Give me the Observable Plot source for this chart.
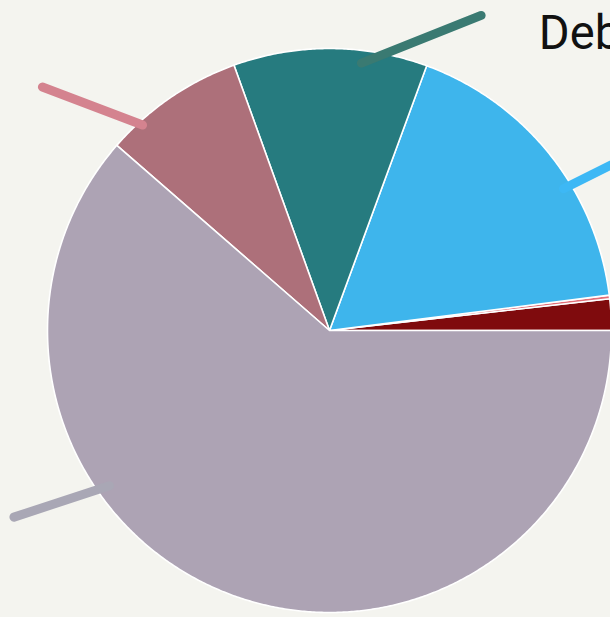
<!DOCTYPE html>
<html><head><meta charset="utf-8">
<script src="https://cdn.jsdelivr.net/npm/d3@7"></script>
<script src="https://cdn.jsdelivr.net/npm/@observablehq/plot@0.6"></script>
<style>html,body{margin:0;padding:0;background:#f4f4ef;overflow:hidden}</style>
</head><body><div id="chart"></div>
<script>
// Slices, counter-clockwise from 3 o'clock
const categories = ["Interest", "Other", "Education", "Debt", "Health", "Social protection"];
const shares = [1.8, 0.2, 17.4, 11.1, 8.1, 61.4];
const sliceColors = ["#7f0b0d", "#e26f78", "#3eb5ec", "#267b7f", "#ad707a", "#ada3b4"];

// Leader lines (polar: degrees CCW from east, radius in pie radii)
const leaderNames = ["Education", "Debt", "Health", "Social protection"];
const leaderStartAngle = [31.2, 83.2, 132.3, 215.2];
const leaderStartRadius = [0.97, 0.955, 0.985, 0.955];
const leaderEndAngle = [30.0, 64.3, 139.7, 210.6];
const leaderEndRadius = [1.314, 1.24, 1.335, 1.30];
const leaderColors = ["#3db8f5", "#3a7a72", "#d4838f", "#a9a7b5"];

// Label
const labelText = ["Debt"];
const labelAngle = [53.4];
const labelRadius = [1.245];

const total = d3.sum(shares);
const rad = d => d * Math.PI / 180;
const rows = [];
let acc = 0;
categories.forEach((c, i) => {
  const a0 = acc / total * 360, a1 = (acc + shares[i]) / total * 360;
  acc += shares[i];
  rows.push({category: c, x: 0, y: 0});
  const n = Math.max(2, Math.ceil((a1 - a0) / 0.4));
  for (let k = 0; k <= n; k++) {
    const a = rad(a0 + (a1 - a0) * k / n);
    rows.push({category: c, x: Math.cos(a), y: Math.sin(a)});
  }
  rows.push({category: c, x: 0, y: 0});
});

const leaders = leaderNames.map((n, i) => ({
  name: n,
  x1: leaderStartRadius[i] * Math.cos(rad(leaderStartAngle[i])),
  y1: leaderStartRadius[i] * Math.sin(rad(leaderStartAngle[i])),
  x2: leaderEndRadius[i] * Math.cos(rad(leaderEndAngle[i])),
  y2: leaderEndRadius[i] * Math.sin(rad(leaderEndAngle[i])),
  color: leaderColors[i]
}));

const labels = labelText.map((t, i) => ({
  text: t,
  x: labelRadius[i] * Math.cos(rad(labelAngle[i])),
  y: labelRadius[i] * Math.sin(rad(labelAngle[i]))
}));

const R = 282;
const plot = Plot.plot({
  width: 610, height: 617,
  margin: 0,
  style: {background: "#f4f4ef", overflow: "hidden"},
  x: {domain: [-329 / R, 281 / R], range: [0, 610], axis: null},
  y: {domain: [-287 / R, 330 / R], range: [617, 0], axis: null},
  color: {domain: categories, range: sliceColors},
  marks: [
    Plot.line(rows, {x: "x", y: "y", z: "category", fill: "category", stroke: "#ffffff", strokeWidth: 1.6, strokeLinejoin: "round", curve: "linear"}),
    ...leaders.map(l => Plot.link([l], {x1: "x1", y1: "y1", x2: "x2", y2: "y2", stroke: l.color, strokeWidth: 9, strokeLinecap: "round"})),
    Plot.text(labels, {x: "x", y: "y", text: "text", textAnchor: "start", lineAnchor: "bottom", fontSize: 48, fontFamily: "Roboto", fill: "#111111", className: "lbl"})
  ]
});
document.getElementById("chart").appendChild(plot);
const xs = plot.scale("x"), ys = plot.scale("y");
plot.querySelectorAll(".lbl text").forEach((t, i) => {
  const px = xs.apply(labels[i].x), py = ys.apply(labels[i].y);
  t.removeAttribute("x"); t.removeAttribute("y");
  t.setAttribute("transform", `translate(${px},${py}) scale(0.98,1)`);
});
</script>
</body></html>
